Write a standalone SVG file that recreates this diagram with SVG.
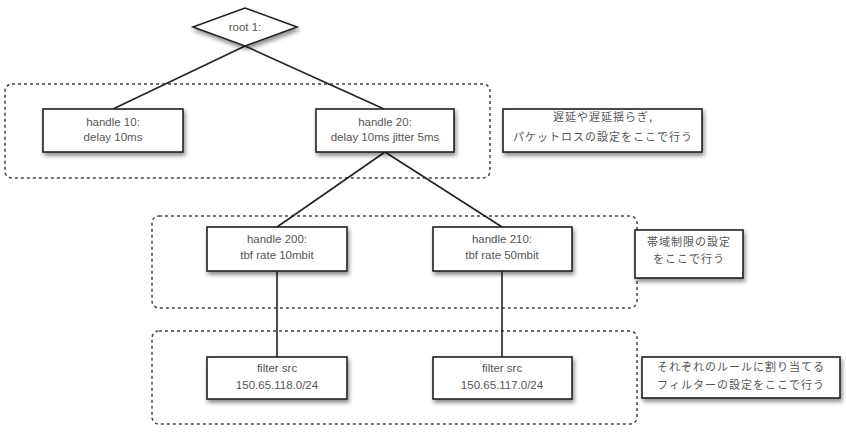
<svg xmlns="http://www.w3.org/2000/svg" width="846" height="433" viewBox="0 0 846 433">
<defs>
<filter id="sh" x="-10%" y="-20%" width="130%" height="150%">
<feDropShadow dx="1.5" dy="3" stdDeviation="2" flood-color="#000" flood-opacity="0.45"/>
</filter>
<style>
.box{fill:#fff;stroke:#222;stroke-width:1.6;filter:url(#sh)}
.grp{fill:none;stroke:#444;stroke-width:1.5;stroke-dasharray:3 3}
.t{font-family:"Liberation Sans",Arial,sans-serif;font-size:11.5px;fill:#555;text-anchor:middle}
.j{font-family:"Noto Sans CJK JP",sans-serif;font-size:11px;fill:#555;text-anchor:middle;letter-spacing:1px}
.ln{stroke:#222;stroke-width:1.6;fill:none}
</style>
</defs>
<rect width="846" height="433" fill="#fff"/>
<g id="groups">
<rect class="grp" x="5" y="84" width="485" height="94" rx="7"/>
<rect class="grp" x="152" y="216" width="485" height="92" rx="7"/>
<rect class="grp" x="152" y="331" width="485" height="93" rx="7"/>
</g>
<g id="connectors">
<line class="ln" x1="245" y1="46" x2="113" y2="109"/>
<line class="ln" x1="245" y1="46" x2="384" y2="109"/>
<line class="ln" x1="385" y1="152" x2="277" y2="227"/>
<line class="ln" x1="385" y1="152" x2="502" y2="227"/>
<line class="ln" x1="277" y1="271" x2="277" y2="357"/>
<line class="ln" x1="502" y1="271" x2="502" y2="357"/>
</g>
<g id="root">
<polygon class="box" points="193,27 245,8 297,27 245,46"/>
<text class="t" x="245" y="31">root 1:</text>
</g>
<g id="h10">
<rect class="box" x="43" y="109" width="140" height="43"/>
<text class="t" x="113" y="126">handle 10:</text>
<text class="t" x="113" y="141">delay 10ms</text>
</g>
<g id="h20">
<rect class="box" x="316" y="109" width="138" height="43"/>
<text class="t" x="385" y="126">handle 20:</text>
<text class="t" x="385" y="141">delay 10ms jitter 5ms</text>
</g>
<g id="c1">
<rect class="box" x="503" y="109" width="199" height="43"/>
<text class="j" x="603" y="121">遅延や遅延揺らぎ,</text>
<text class="j" x="603" y="141">パケットロスの設定をここで行う</text>
</g>
<g id="h200">
<rect class="box" x="207" y="227" width="140" height="44"/>
<text class="t" x="277" y="243">handle 200:</text>
<text class="t" x="277" y="259">tbf rate 10mbit</text>
</g>
<g id="h210">
<rect class="box" x="433" y="227" width="139" height="44"/>
<text class="t" x="502" y="243">handle 210:</text>
<text class="t" x="502" y="259">tbf rate 50mbit</text>
</g>
<g id="c2">
<rect class="box" x="635" y="230" width="108" height="48"/>
<text class="j" x="689" y="246">帯域制限の設定</text>
<text class="j" x="689" y="263">をここで行う</text>
</g>
<g id="f1">
<rect class="box" x="207" y="357" width="140" height="42"/>
<text class="t" x="277" y="372">filter src</text>
<text class="t" x="277" y="389">150.65.118.0/24</text>
</g>
<g id="f2">
<rect class="box" x="433" y="357" width="139" height="42"/>
<text class="t" x="502" y="372">filter src</text>
<text class="t" x="502" y="389">150.65.117.0/24</text>
</g>
<g id="c3">
<rect class="box" x="642" y="357" width="198" height="41"/>
<text class="j" x="741" y="371">それぞれのルールに割り当てる</text>
<text class="j" x="741" y="389">フィルターの設定をここで行う</text>
</g>
</svg>
